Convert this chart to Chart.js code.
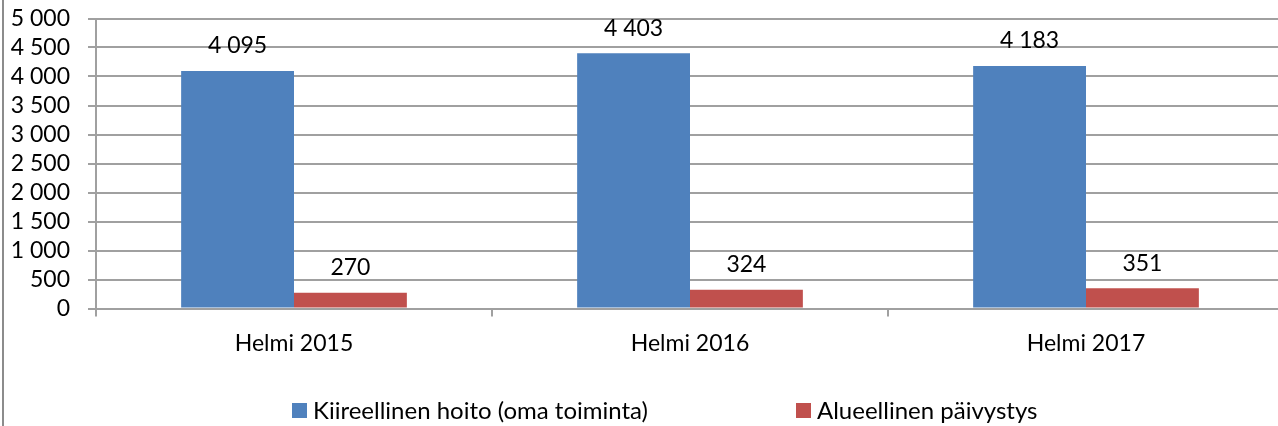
<!DOCTYPE html>
<html>
<head>
<meta charset="utf-8">
<script src="https://cdn.jsdelivr.net/npm/chart.js@4.4.0/dist/chart.umd.min.js"></script>
<style>
  html, body { margin: 0; padding: 0; background: #fff; overflow: hidden; }
  #wrap { width: 1284px; height: 426px; position: relative; }
</style>
</head>
<body>
<div id="wrap"><canvas id="chart"></canvas></div>
<script>
var categories = ["Helmi 2015", "Helmi 2016", "Helmi 2017"];
var seriesNames = ["Kiireellinen hoito (oma toiminta)", "Alueellinen päivystys"];
var kiireellinen = [4095, 4403, 4183];
var alueellinen = [270, 324, 351];
var colors = ["#4F81BD", "#C0504D"];

var FONT = "Lato, 'Liberation Sans', sans-serif";
var FS = 23;

function fmt(v) {
  return String(v).replace(/\B(?=(\d{3})+(?!\d))/g, " ");
}

// value labels above bars
var valueLabels = {
  id: 'valueLabels',
  afterDatasetsDraw: function(chart) {
    var ctx = chart.ctx;
    ctx.save();
    ctx.font = FS + "px " + FONT;
    ctx.fillStyle = "#000";
    ctx.textAlign = "center";
    ctx.textBaseline = "middle";
    chart.data.datasets.forEach(function(ds, i) {
      chart.getDatasetMeta(i).data.forEach(function(bar, j) {
        ctx.fillText(fmt(ds.data[j]), bar.x, bar.y - 25);
      });
    });
    ctx.restore();
  }
};

// left frame line + legend row
var frameLegend = {
  id: 'frameLegend',
  beforeDraw: function(chart) {
    var ctx = chart.ctx;
    ctx.save();
    ctx.fillStyle = "#fff";
    ctx.fillRect(0, 0, chart.width, chart.height);
    ctx.fillStyle = "#8c8c8c";
    ctx.fillRect(2, 0, 2, chart.height);
    ctx.restore();
  },
  afterDraw: function(chart) {
    var ctx = chart.ctx;
    var xs = [292, 796];
    ctx.save();
    ctx.font = "24px " + FONT;
    ctx.textBaseline = "middle";
    ctx.textAlign = "left";
    chart.data.datasets.forEach(function(ds, i) {
      ctx.fillStyle = ds.backgroundColor;
      ctx.fillRect(xs[i], 403, 15, 15);
      ctx.fillStyle = "#000";
      ctx.fillText(ds.label, xs[i] + 21, 411);
    });
    ctx.restore();
  }
};

var ctx = document.getElementById("chart");
var myChart = new Chart(ctx, {
  type: 'bar',
  data: {
    labels: categories,
    datasets: [{
      label: seriesNames[0],
      data: kiireellinen,
      backgroundColor: colors[0],
      barPercentage: 1,
      categoryPercentage: 0.57
    }, {
      label: seriesNames[1],
      data: alueellinen,
      backgroundColor: colors[1],
      barPercentage: 1,
      categoryPercentage: 0.57
    }]
  },
  options: {
    responsive: true,
    maintainAspectRatio: false,
    animation: false,
    layout: { padding: { top: 18.5, left: 0, right: 0, bottom: 0 } },
    plugins: {
      legend: { display: false },
      tooltip: { enabled: false }
    },
    scales: {
      x: {
        grid: {
          offset: true,
          drawOnChartArea: false,
          drawTicks: true,
          tickLength: 8,
          color: "#a0a0a0",
          lineWidth: 2
        },
        border: { color: "#a0a0a0", width: 2 },
        ticks: {
          color: "#000",
          font: { family: FONT, size: FS, lineHeight: 1.2 },
          padding: 13,
          maxRotation: 0,
          autoSkip: false
        },
        afterFit: function(scale) {
          scale.height = 117.5;
          scale.paddingLeft = 0;
          scale.paddingRight = 0;
        }
      },
      y: {
        min: 0,
        max: 5000,
        ticks: {
          stepSize: 500,
          autoSkip: false,
          color: "#000",
          font: { family: FONT, size: FS, lineHeight: 1.2 },
          padding: 18,
          callback: function(v) { return fmt(v); }
        },
        grid: {
          color: "#a0a0a0",
          lineWidth: 2,
          tickLength: 8
        },
        border: { color: "#a0a0a0", width: 2 },
        afterFit: function(scale) {
          scale.width = 96;
          scale.paddingTop = 0;
          scale.paddingBottom = 0;
        }
      }
    }
  },
  plugins: [valueLabels, frameLegend]
});
</script>
</body>
</html>
